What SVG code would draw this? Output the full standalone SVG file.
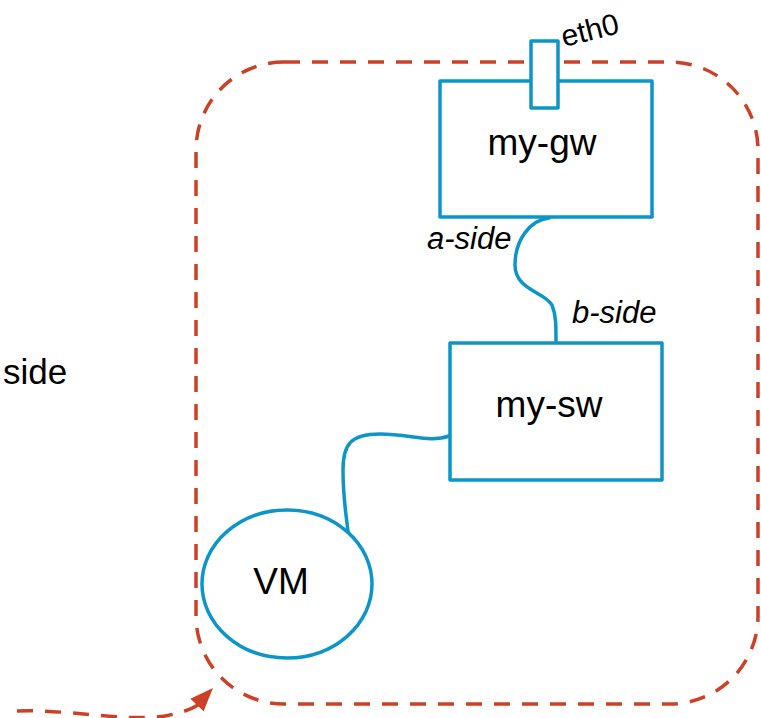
<svg xmlns="http://www.w3.org/2000/svg" width="761" height="718" viewBox="0 0 761 718">
<style>
.box{fill:#fff;stroke:#0e95c8;stroke-width:3.5;stroke-linejoin:round}
.wire{fill:none;stroke:#0e95c8;stroke-width:3.5;stroke-linecap:round}
.dash{fill:none;stroke:#cc4125;stroke-width:3.5;stroke-dasharray:16 12}
.lbl{font-family:"Liberation Sans",Arial,sans-serif;fill:#000}
.big{font-size:37px;text-anchor:middle}
.it{font-size:31px;font-style:italic}
</style>
<rect id="boundary" class="dash" x="196" y="62" width="562" height="642" rx="88" ry="88"/>
<g id="connectors">
<path class="dash" d="M 17 711 C 70 709, 120 722, 165 716 C 180 713, 190 710, 198 705"/>
<polygon points="213,688 203.6,711.2 190.4,698.8" fill="#cc4125"/>
<path class="wire" d="M 549 218 C 530 220, 515 240, 515 265 C 515 290, 545 292, 552 305 C 556 315, 556 325, 556 341"/>
<path class="wire" d="M 449 436 C 430 443, 410 434, 380 434 C 350 434, 343 445, 343 470 C 343 500, 347 520, 348 532"/>
</g>
<g id="my-gw">
<rect class="box" x="440" y="81" width="212" height="136"/>
<text class="lbl big" x="542" y="155">my-gw</text>
</g>
<g id="eth0">
<rect class="box" x="531" y="41" width="27" height="67"/>
<text class="lbl" font-size="30" transform="translate(564,47) rotate(-14)">eth0</text>
</g>
<g id="my-sw">
<rect class="box" x="450" y="343" width="212" height="137"/>
<text class="lbl big" x="549" y="417">my-sw</text>
</g>
<g id="VM">
<ellipse class="box" cx="287" cy="584" rx="85" ry="74"/>
<text class="lbl big" x="281" y="594">VM</text>
</g>
<text class="lbl it" x="427" y="249">a-side</text>
<text class="lbl it" x="572" y="323">b-side</text>
<text class="lbl" font-size="35" x="3" y="384">side</text>
</svg>
